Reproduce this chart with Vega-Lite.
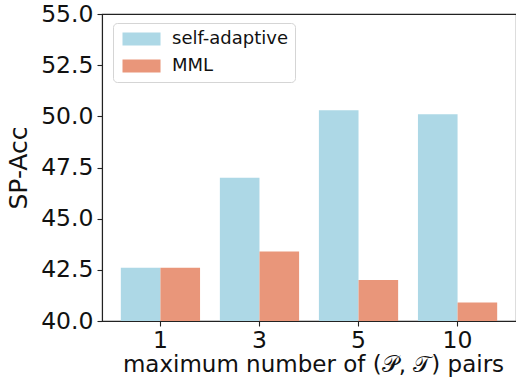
{
  "$schema": "https://vega.github.io/schema/vega-lite/v6.json",
  "width": 414,
  "height": 307,
  "autosize": {"type": "none"},
  "padding": {"left": 102, "top": 14, "right": 0, "bottom": 62},
  "config": {
    "font": "DejaVu Sans",
    "view": {"stroke": "#222", "strokeWidth": 1.1},
    "axis": {"domainColor": "#222", "tickColor": "#222", "labelColor": "#111", "titleColor": "#111", "grid": false, "domainWidth": 1.1, "tickWidth": 1.1}
  },
  "data": {
    "values": [
      {"pairs": "1", "method": "self-adaptive", "acc": 42.6},
      {"pairs": "1", "method": "MML", "acc": 42.6},
      {"pairs": "3", "method": "self-adaptive", "acc": 47.0},
      {"pairs": "3", "method": "MML", "acc": 43.4},
      {"pairs": "5", "method": "self-adaptive", "acc": 50.3},
      {"pairs": "5", "method": "MML", "acc": 42.0},
      {"pairs": "10", "method": "self-adaptive", "acc": 50.1},
      {"pairs": "10", "method": "MML", "acc": 40.9}
    ]
  },
  "mark": {"type": "bar"},
  "encoding": {
    "x": {
      "field": "pairs", "type": "ordinal", "sort": ["1", "3", "5", "10"],
      "scale": {"paddingInner": 0.2, "paddingOuter": 0.19},
      "axis": {"labelAngle": 0, "labelFontSize": 23.5, "tickSize": 5, "labelPadding": 2, "title": "maximum number of (𝒫, 𝒯) pairs", "titleFontSize": 23, "titleFontWeight": "normal", "titlePadding": 2, "titleX": 211}
    },
    "xOffset": {"field": "method", "type": "nominal", "sort": ["self-adaptive", "MML"]},
    "y": {
      "field": "acc", "type": "quantitative",
      "scale": {"domain": [40, 55], "zero": false, "nice": false},
      "axis": {"values": [40, 42.5, 45, 47.5, 50, 52.5, 55], "format": ".1f", "labelFontSize": 23.5, "tickSize": 5, "labelPadding": 4, "title": "SP-Acc", "titleFontSize": 25, "titleFontWeight": "normal", "titlePadding": 9}
    },
    "y2": {"datum": 40},
    "color": {
      "field": "method", "type": "nominal", "sort": ["self-adaptive", "MML"],
      "scale": {"domain": ["self-adaptive", "MML"], "range": ["#ADD8E6", "#E9967A"]},
      "legend": {
        "title": null, "orient": "none", "legendX": 11, "legendY": 9,
        "symbolType": "M-1,-1H4.85V1H-1Z", "symbolSize": 169, "symbolStrokeWidth": 0, "symbolOpacity": 1,
        "labelFontSize": 18, "labelColor": "#111", "labelOffset": 34, "rowPadding": 9,
        "padding": 7, "strokeColor": "#d5d5d5", "fillColor": "white", "cornerRadius": 4
      }
    }
  }
}
